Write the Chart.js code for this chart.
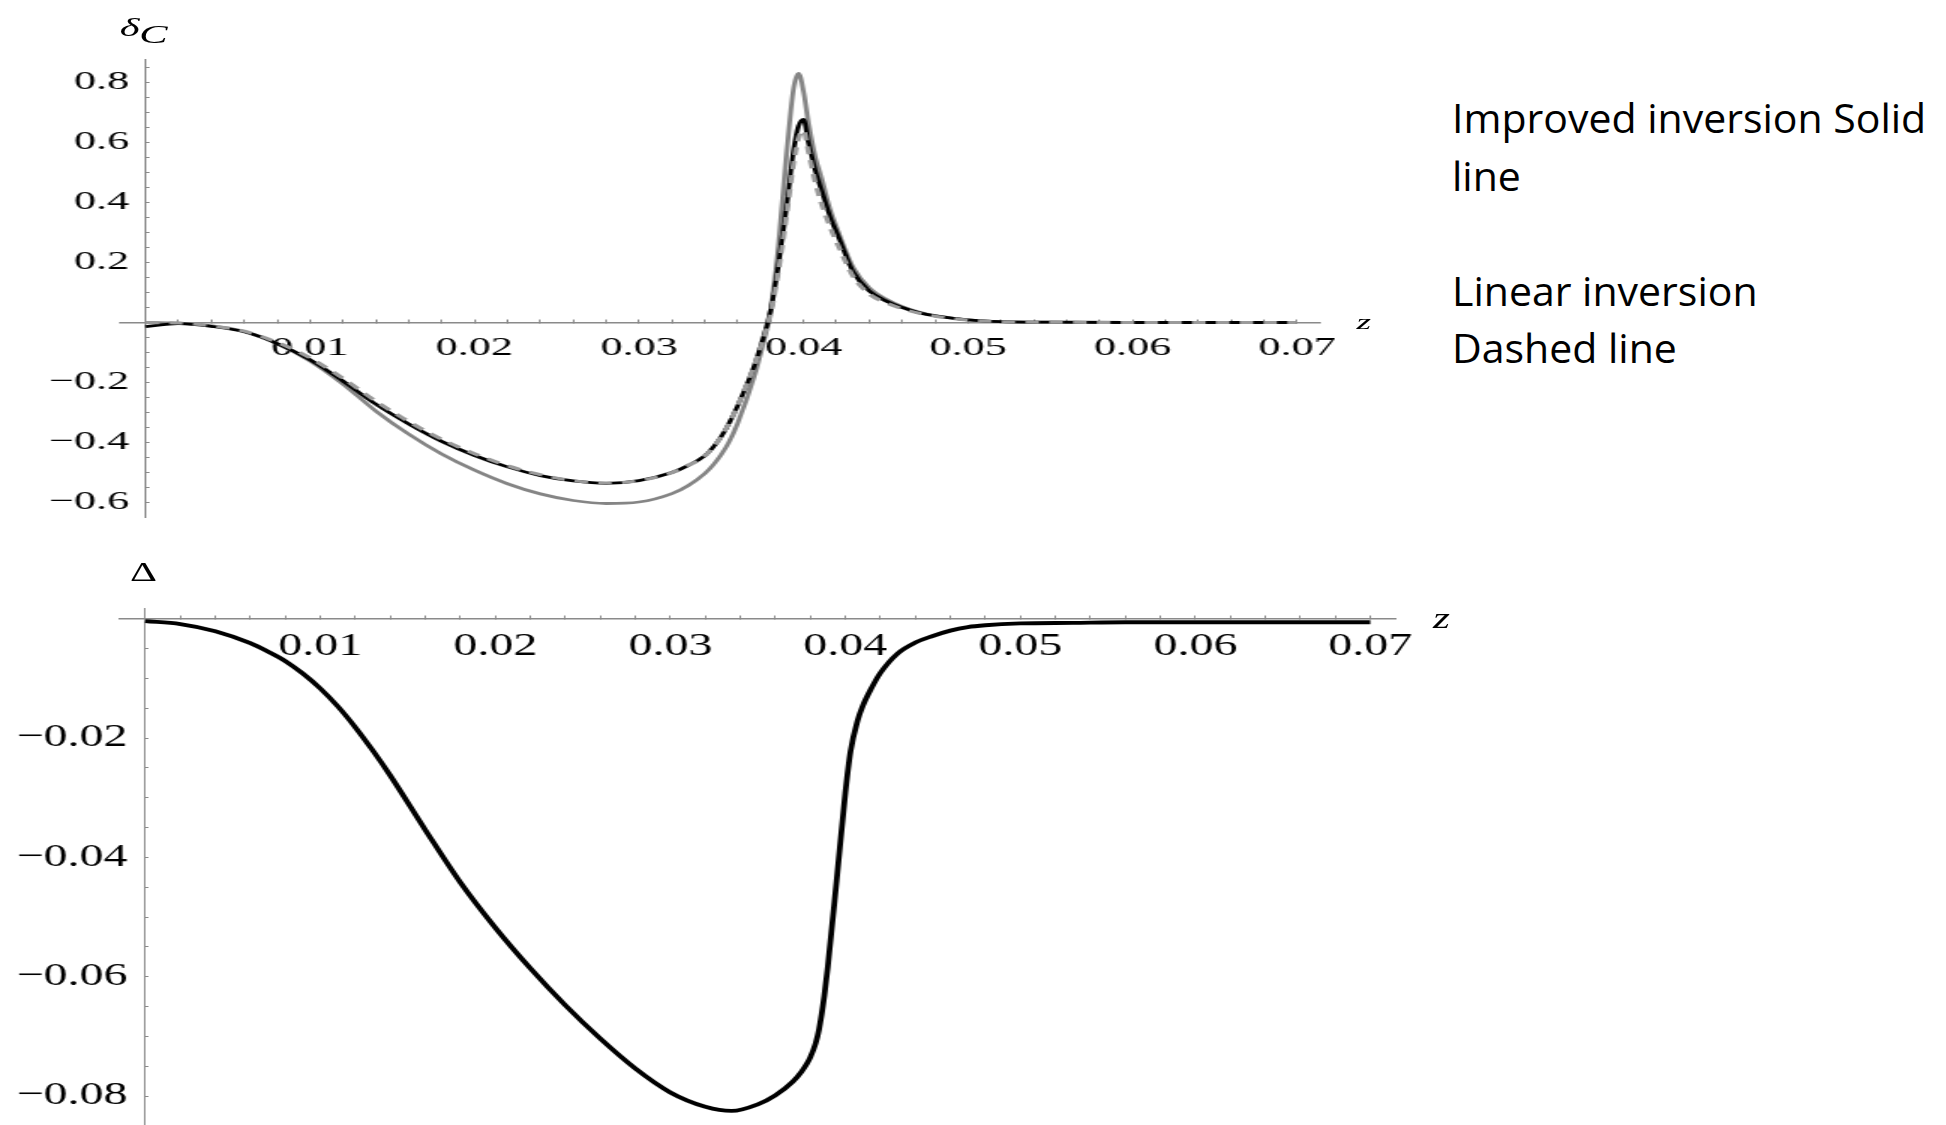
<!DOCTYPE html>
<html>
<head>
<meta charset="utf-8">
<script src="https://cdn.jsdelivr.net/npm/chart.js@4.4.1/dist/chart.umd.min.js"></script>
<style>
html,body{margin:0;padding:0;background:#fff;width:1946px;height:1125px;overflow:hidden;}
.wrap{position:absolute;left:0;transform-origin:0 0;}
#topWrap{top:0;width:824px;height:560px;transform:scaleX(1.7);}
#botWrap{top:530px;width:974px;height:635px;transform:scaleX(1.5);}
canvas{display:block;}
.lbl{position:absolute;font-family:"Liberation Serif",serif;color:#000;line-height:1;white-space:nowrap;}
#legend{position:absolute;left:1452px;top:89px;font-family:"Open Sans",sans-serif;font-size:41px;line-height:57.5px;color:#000;white-space:nowrap;}
</style>
</head>
<body>
<div id="topWrap" class="wrap">
  <canvas id="topChart" width="824" height="560"></canvas>
  <div class="lbl" style="left:70.4px;top:14.5px;font-size:25px;font-style:italic;">δ</div>
  <div class="lbl" style="left:81.9px;top:22px;font-size:25px;font-style:italic;">C</div>
  <div class="lbl" style="left:798px;top:311px;font-size:22px;font-style:italic;">z</div>
</div>
<div id="botWrap" class="wrap">
  <canvas id="botChart" width="974" height="635"></canvas>
  <div class="lbl" style="left:86.7px;top:28px;font-size:28px;">Δ</div>
  <div class="lbl" style="left:955.3px;top:74px;font-size:29px;font-style:italic;">z</div>
</div>
<div id="legend">Improved inversion Solid<br>line<br><br>Linear inversion<br>Dashed line</div>
<script>
// ---- data ----
const zTop = [0, 0.002, 0.004, 0.006, 0.008, 0.010, 0.012, 0.014, 0.016, 0.018, 0.020, 0.022, 0.024, 0.026, 0.028, 0.030, 0.032, 0.033, 0.034, 0.0345, 0.035, 0.0355, 0.036, 0.037, 0.0375, 0.038, 0.0385, 0.039, 0.0394, 0.0397, 0.0400, 0.0403, 0.0407, 0.0411, 0.0416, 0.0422, 0.043, 0.044, 0.045, 0.046, 0.047, 0.048, 0.050, 0.052, 0.055, 0.060, 0.065, 0.070];
const grayTrue = [0, -0.002, -0.011, -0.030, -0.070, -0.128, -0.205, -0.295, -0.372, -0.438, -0.492, -0.537, -0.571, -0.593, -0.603, -0.598, -0.570, -0.543, -0.503, -0.475, -0.440, -0.395, -0.335, -0.180, -0.080, 0.040, 0.270, 0.580, 0.780, 0.830, 0.770, 0.665, 0.555, 0.480, 0.380, 0.290, 0.185, 0.115, 0.078, 0.053, 0.035, 0.023, 0.009, 0.003, 0.001, 0, 0, 0];
const blackImproved = [-0.014, -0.004, -0.013, -0.031, -0.070, -0.124, -0.195, -0.272, -0.338, -0.396, -0.443, -0.481, -0.510, -0.528, -0.536, -0.527, -0.500, -0.476, -0.444, -0.416, -0.380, -0.333, -0.277, -0.145, -0.060, 0.040, 0.200, 0.400, 0.575, 0.655, 0.677, 0.600, 0.510, 0.440, 0.355, 0.275, 0.170, 0.105, 0.072, 0.050, 0.033, 0.022, 0.009, 0.003, 0.001, 0, 0, 0];
const dashedLinear = [0, -0.002, -0.011, -0.029, -0.066, -0.118, -0.186, -0.262, -0.330, -0.389, -0.437, -0.477, -0.507, -0.527, -0.535, -0.527, -0.500, -0.476, -0.444, -0.416, -0.380, -0.333, -0.277, -0.145, -0.065, 0.030, 0.180, 0.370, 0.530, 0.615, 0.640, 0.570, 0.470, 0.395, 0.320, 0.245, 0.155, 0.095, 0.066, 0.046, 0.031, 0.021, 0.008, 0.003, 0.001, 0, 0, 0];

const zBot = [0, 0.002, 0.004, 0.006, 0.007, 0.008, 0.009, 0.010, 0.011, 0.012, 0.013, 0.014, 0.016, 0.018, 0.020, 0.022, 0.024, 0.026, 0.028, 0.030, 0.032, 0.0335, 0.035, 0.036, 0.037, 0.0375, 0.0378, 0.038, 0.0383, 0.0385, 0.0388, 0.039, 0.0395, 0.040, 0.0403, 0.0407, 0.041, 0.0415, 0.042, 0.043, 0.044, 0.045, 0.046, 0.047, 0.048, 0.050, 0.053, 0.056, 0.060, 0.065, 0.070];
const deltaBot = [-0.0004, -0.0009, -0.0021, -0.0041, -0.0055, -0.0071, -0.0092, -0.0117, -0.0147, -0.0182, -0.0221, -0.0263, -0.0354, -0.0442, -0.0518, -0.0586, -0.0648, -0.0704, -0.0754, -0.0794, -0.0818, -0.0825, -0.0814, -0.0799, -0.0776, -0.0759, -0.0746, -0.0735, -0.0712, -0.0688, -0.0632, -0.0583, -0.0440, -0.0292, -0.0222, -0.0171, -0.0146, -0.0116, -0.0091, -0.0058, -0.0040, -0.0029, -0.0020, -0.0014, -0.0011, -0.0008, -0.0007, -0.0006, -0.0006, -0.0006, -0.0006];

// ---- tick labels ----
const xTickValues = [0.01, 0.02, 0.03, 0.04, 0.05, 0.06, 0.07];
const xTickLabels = ['0.01', '0.02', '0.03', '0.04', '0.05', '0.06', '0.07'];
const topYTickValues = [-0.6, -0.4, -0.2, 0.2, 0.4, 0.6, 0.8];
const topYTickLabels = ['\u22120.6', '\u22120.4', '\u22120.2', '0.2', '0.4', '0.6', '0.8'];
const botYTickValues = [-0.08, -0.06, -0.04, -0.02];
const botYTickLabels = ['\u22120.08', '\u22120.06', '\u22120.04', '\u22120.02'];

function labelFor(v, vals, labels) {
  for (let i = 0; i < vals.length; i++) if (Math.abs(v - vals[i]) < 1e-7) return labels[i];
  return '';
}
function pts(xs, ys) { return xs.map((x, i) => ({x: x, y: ys[i]})); }

const AXIS = '#8a8a8a';
const SERIF = 'Liberation Serif';
const measureCtx = document.createElement('canvas').getContext('2d');
function widest(labels, size) {
  measureCtx.font = size + 'px ' + SERIF;
  return Math.max.apply(null, labels.map(l => measureCtx.measureText(l).width));
}
function xScale(min, max, fontSize, pad, vals, labels) {
  return {
    type: 'linear', min: min, max: max, position: {y: 0},
    afterFit: s => { s.height = 0; },
    border: {display: true, color: AXIS, width: 1.5},
    grid: {display: true, drawOnChartArea: false, drawTicks: true, tickLength: -4, tickColor: AXIS, tickWidth: 1},
    ticks: {stepSize: 0.002, autoSkip: false, maxRotation: 0, minRotation: 0, includeBounds: false, padding: pad,
      color: '#000', font: {family: SERIF, size: fontSize},
      callback: v => labelFor(v, vals, labels)}
  };
}
// y axis line + tick marks, crossing the x axis at z = 0
function yAxisLine(min, max, step) {
  return {
    type: 'linear', min: min, max: max, position: {x: 0},
    afterFit: s => { s.width = 0; },
    border: {display: true, color: AXIS, width: 1},
    grid: {display: true, drawOnChartArea: false, drawTicks: true, tickLength: -3, tickColor: AXIS, tickWidth: 1},
    ticks: {stepSize: step, autoSkip: false, includeBounds: false, padding: 0, display: false}
  };
}
// y tick labels, right-aligned just left of the axis line (gap = canvas px right of the chart-area edge)
function yAxisLabels(min, max, step, fontSize, gap, vals, labels) {
  return {
    type: 'linear', min: min, max: max, position: 'left',
    afterFit: s => { s.width = 0; },
    border: {display: false},
    grid: {display: false, drawTicks: false},
    ticks: {stepSize: step, autoSkip: false, includeBounds: false, mirror: true, crossAlign: 'far',
      padding: gap - widest(labels, fontSize),
      color: '#000', font: {family: SERIF, size: fontSize},
      callback: v => labelFor(v, vals, labels)}
  };
}
const common = {
  responsive: false, animation: false, devicePixelRatio: 1,
  plugins: {legend: {display: false}, tooltip: {enabled: false}},
  elements: {point: {radius: 0}, line: {cubicInterpolationMode: 'monotone'}}
};

const TOP_Y = [-0.648, 0.878];
new Chart(document.getElementById('topChart'), {
  type: 'line',
  data: {
    datasets: [
      {label: 'Linear inversion', data: pts(zTop, dashedLinear), borderColor: '#9a9a9a', borderWidth: 3, borderDash: [8, 6]},
      {label: 'Improved inversion', data: pts(zTop, blackImproved), borderColor: '#000000', borderWidth: 2.8},
      {label: 'Model', data: pts(zTop, grayTrue), borderColor: '#858585', borderWidth: 2.8}
    ]
  },
  options: Object.assign({}, common, {
    layout: {padding: {left: 71.18, right: 47.53, top: 59, bottom: 43}},
    scales: {
      x: xScale(-0.00149, 0.0714, 26, 14, xTickValues, xTickLabels),
      y: yAxisLine(TOP_Y[0], TOP_Y[1], 0.05),
      yLabels: yAxisLabels(TOP_Y[0], TOP_Y[1], 0.05, 26, 4.9, topYTickValues, topYTickLabels)
    }
  })
});

const BOT_Y = [-0.08486, 0.00179];
new Chart(document.getElementById('botChart'), {
  type: 'line',
  data: {
    datasets: [
      {label: 'Delta', data: pts(zBot, deltaBot), borderColor: '#000000', borderWidth: 3.8}
    ]
  },
  options: Object.assign({}, common, {
    layout: {padding: {left: 80, right: 43.53, top: 78, bottom: 40}},
    scales: {
      x: xScale(-0.001446, 0.07145, 32, 13, xTickValues, xTickLabels),
      y: yAxisLine(BOT_Y[0], BOT_Y[1], 0.005),
      yLabels: yAxisLabels(BOT_Y[0], BOT_Y[1], 0.005, 32, 5.1, botYTickValues, botYTickLabels)
    }
  })
});
</script>
</body>
</html>
